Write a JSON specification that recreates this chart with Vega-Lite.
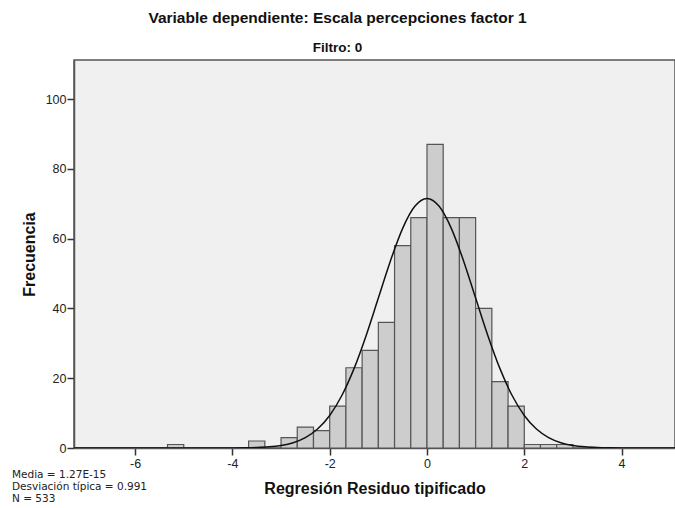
{
  "$schema": "https://vega.github.io/schema/vega-lite/v6.json",
  "width": 601,
  "height": 388,
  "autosize": {"type": "none"},
  "padding": {"left": 74, "top": 60, "right": 0, "bottom": 60},
  "background": "white",
  "config": {
    "font": "Liberation Sans",
    "view": {"fill": "#f0f0f0", "stroke": "#555555", "strokeWidth": 1.5},
    "axis": {
      "grid": false,
      "domainColor": "#555555",
      "domainWidth": 1.5,
      "tickColor": "#333333",
      "tickWidth": 1.5,
      "tickSize": 7,
      "labelFontSize": 12.5,
      "labelColor": "#222222",
      "titleFontSize": 16,
      "titleFontWeight": "bold",
      "titleColor": "#111111",
      "labelFont": "Liberation Sans",
      "titleFont": "Liberation Sans"
    }
  },
  "title": {
    "text": "Variable dependiente: Escala percepciones factor 1",
    "subtitle": "Filtro: 0",
    "fontSize": 15.5,
    "fontWeight": "bold",
    "subtitleFontSize": 13.5,
    "subtitleFontWeight": "bold",
    "color": "#111111",
    "subtitleColor": "#111111",
    "font": "Liberation Sans",
    "subtitleFont": "Liberation Sans",
    "anchor": "middle",
    "frame": "group",
    "dx": -37,
    "offset": 6,
    "subtitlePadding": 14
  },
  "datasets": {
    "bins": [
      {"bin_start": -5.3333, "bin_end": -5.0, "count": 1},
      {"bin_start": -3.6667, "bin_end": -3.3333, "count": 2},
      {"bin_start": -3.0, "bin_end": -2.6667, "count": 3},
      {"bin_start": -2.6667, "bin_end": -2.3333, "count": 6},
      {"bin_start": -2.3333, "bin_end": -2.0, "count": 5},
      {"bin_start": -2.0, "bin_end": -1.6667, "count": 12},
      {"bin_start": -1.6667, "bin_end": -1.3333, "count": 23},
      {"bin_start": -1.3333, "bin_end": -1.0, "count": 28},
      {"bin_start": -1.0, "bin_end": -0.6667, "count": 36},
      {"bin_start": -0.6667, "bin_end": -0.3333, "count": 58},
      {"bin_start": -0.3333, "bin_end": 0.0, "count": 66},
      {"bin_start": 0.0, "bin_end": 0.3333, "count": 87},
      {"bin_start": 0.3333, "bin_end": 0.6667, "count": 66},
      {"bin_start": 0.6667, "bin_end": 1.0, "count": 66},
      {"bin_start": 1.0, "bin_end": 1.3333, "count": 40},
      {"bin_start": 1.3333, "bin_end": 1.6667, "count": 19},
      {"bin_start": 1.6667, "bin_end": 2.0, "count": 12},
      {"bin_start": 2.0, "bin_end": 2.3333, "count": 1},
      {"bin_start": 2.3333, "bin_end": 2.6667, "count": 1},
      {"bin_start": 2.6667, "bin_end": 3.0, "count": 1}
    ],
    "curve": [
      {"x": -7.25, "y": 0},
      {"x": -6.0, "y": 0},
      {"x": -5.0, "y": 0.0002},
      {"x": -4.5, "y": 0.0024},
      {"x": -4.25, "y": 0.0073},
      {"x": -4.0, "y": 0.0207},
      {"x": -3.75, "y": 0.0556},
      {"x": -3.5, "y": 0.140},
      {"x": -3.25, "y": 0.330},
      {"x": -3.0, "y": 0.732},
      {"x": -2.75, "y": 1.52},
      {"x": -2.5, "y": 2.97},
      {"x": -2.25, "y": 5.43},
      {"x": -2.0, "y": 9.33},
      {"x": -1.75, "y": 15.04},
      {"x": -1.5, "y": 22.74},
      {"x": -1.25, "y": 32.27},
      {"x": -1.0, "y": 42.97},
      {"x": -0.75, "y": 53.69},
      {"x": -0.5, "y": 62.96},
      {"x": -0.25, "y": 69.26},
      {"x": 0.0, "y": 71.5},
      {"x": 0.25, "y": 69.26},
      {"x": 0.5, "y": 62.96},
      {"x": 0.75, "y": 53.69},
      {"x": 1.0, "y": 42.97},
      {"x": 1.25, "y": 32.27},
      {"x": 1.5, "y": 22.74},
      {"x": 1.75, "y": 15.04},
      {"x": 2.0, "y": 9.33},
      {"x": 2.25, "y": 5.43},
      {"x": 2.5, "y": 2.97},
      {"x": 2.75, "y": 1.52},
      {"x": 3.0, "y": 0.732},
      {"x": 3.25, "y": 0.330},
      {"x": 3.5, "y": 0.140},
      {"x": 3.75, "y": 0.0556},
      {"x": 4.0, "y": 0.0207},
      {"x": 4.25, "y": 0.0073},
      {"x": 4.5, "y": 0.0024},
      {"x": 5.0, "y": 0.0002},
      {"x": 5.1, "y": 0.0001}
    ],
    "stats": [
      {"label": "Media = 1.27E-15\nDesviación típica = 0.991\nN = 533"}
    ]
  },
  "layer": [
    {
      "data": {"name": "bins"},
      "mark": {"type": "rect", "fill": "#cdcdcd", "stroke": "#555555", "strokeWidth": 1.2},
      "encoding": {
        "x": {
          "field": "bin_start",
          "type": "quantitative",
          "scale": {"domain": [-7.256, 5.098], "nice": false, "zero": false},
          "axis": {
            "values": [-6, -4, -2, 0, 2, 4],
            "labelExpr": "replace(datum.label, '−', '-')",
            "title": "Regresión Residuo tipificado",
            "labelPadding": 2,
            "titlePadding": 11,
            "labelFlush": false
          }
        },
        "x2": {"field": "bin_end"},
        "y": {
          "field": "count",
          "type": "quantitative",
          "scale": {"domain": [0, 111.2], "nice": false},
          "axis": {
            "values": [0, 20, 40, 60, 80, 100],
            "title": "Frecuencia",
            "labelPadding": 1,
            "titlePadding": 8,
            "labelFlush": false
          }
        },
        "y2": {"datum": 0}
      }
    },
    {
      "data": {"name": "curve"},
      "mark": {"type": "line", "color": "#111111", "strokeWidth": 1.5, "interpolate": "monotone", "clip": true},
      "encoding": {
        "x": {"field": "x", "type": "quantitative"},
        "y": {"field": "y", "type": "quantitative"}
      }
    },
    {
      "data": {"name": "stats"},
      "mark": {
        "type": "text",
        "align": "left",
        "baseline": "top",
        "fontSize": 10.5,
        "lineHeight": 12,
        "lineBreak": "\n",
        "color": "#222222",
        "font": "DejaVu Sans",
        "dx": -62,
        "dy": 22
      },
      "encoding": {
        "x": {"datum": -7.256},
        "y": {"datum": 0},
        "text": {"field": "label"}
      }
    }
  ]
}
